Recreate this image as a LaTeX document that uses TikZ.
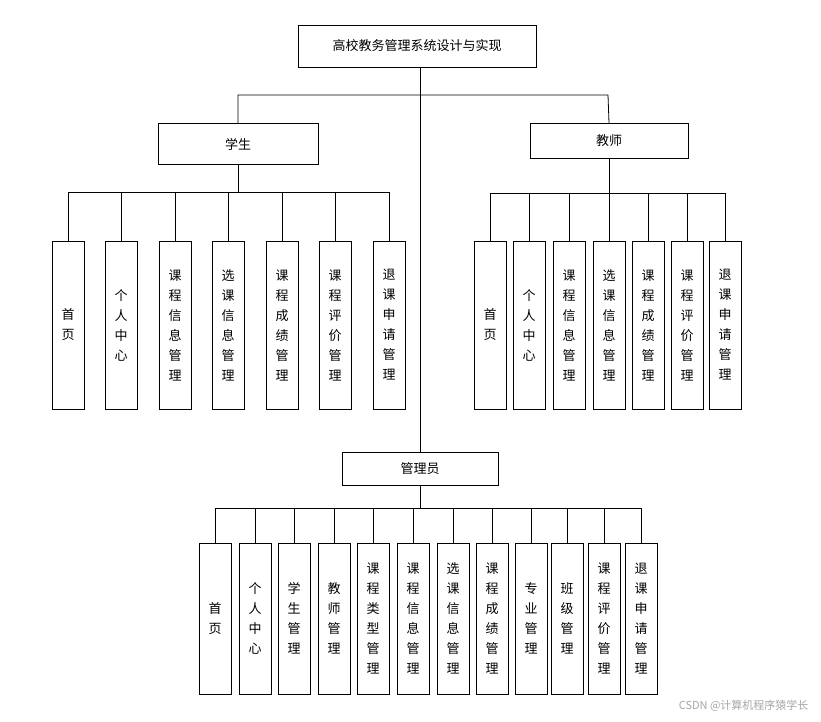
\documentclass[tikz,border=0pt]{standalone}
\usepackage{fontspec}
\setmainfont{Noto Sans CJK SC}
\begin{document}
\begin{tikzpicture}[x=1pt,y=-1pt,
  box/.style={draw,thick,inner sep=0pt,font=\fontsize{13}{15}\selectfont},
  vbox/.style={draw,thick,inner sep=0pt,minimum width=32pt,align=center,font=\fontsize{13}{20}\selectfont},
  ln/.style={thick}]
\useasboundingbox (0,0) rectangle (821,722);
\node[box,minimum width=238pt,minimum height=42pt] (root) at (417,46) {高校教务管理系统设计与实现};
\node[box,minimum width=160pt,minimum height=41pt] (stu) at (238,144) {学生};
\node[box,minimum width=158pt,minimum height=35pt] (tea) at (609,141) {教师};
\node[box,minimum width=156pt,minimum height=33pt] (adm) at (420,469) {管理员};
\draw[ln] (root.south) ++(3,0) coordinate (rs) -- (adm.north);
\coordinate (b0) at (420,95);
\draw[ln] (stu.north) -- (238,95) -- (608,95) -- (tea.north);
% student
\foreach \x/\t [count=\i] in {68/首\\页,121/个\\人\\中\\心,175/课\\程\\信\\息\\管\\理,228/选\\课\\信\\息\\管\\理,282/课\\程\\成\\绩\\管\\理,335/课\\程\\评\\价\\管\\理,389/退\\课\\申\\请\\管\\理}{
  \node[vbox,minimum height=168pt] (s\i) at (\x,325) {\t};
  \draw[ln] (s\i.north) -- (\x,192);}
\draw[ln] (68,192) -- (389,192) (stu.south) -- (238,192);
% teacher
\foreach \x/\t [count=\i] in {490/首\\页,529/个\\人\\中\\心,569/课\\程\\信\\息\\管\\理,609/选\\课\\信\\息\\管\\理,648/课\\程\\成\\绩\\管\\理,687/课\\程\\评\\价\\管\\理,725/退\\课\\申\\请\\管\\理}{
  \node[vbox,minimum height=168pt] (t\i) at (\x,325) {\t};
  \draw[ln] (t\i.north) -- (\x,193);}
\draw[ln] (490,193) -- (725,193) (tea.south) -- (609,193);
% admin
\foreach \x/\t [count=\i] in {215/首\\页,255/个\\人\\中\\心,294/学\\生\\管\\理,334/教\\师\\管\\理,373/课\\程\\类\\型\\管\\理,413/课\\程\\信\\息\\管\\理,453/选\\课\\信\\息\\管\\理,492/课\\程\\成\\绩\\管\\理,531/专\\业\\管\\理,567/班\\级\\管\\理,604/课\\程\\评\\价\\管\\理,641/退\\课\\申\\请\\管\\理}{
  \node[vbox,minimum height=151pt] (a\i) at (\x,618.5) {\t};
  \draw[ln] (a\i.north) -- (\x,508);}
\draw[ln] (215,508) -- (641,508) (adm.south) -- (420,508);
\node[text=gray!70,font=\fontsize{11}{13}\selectfont,anchor=east] (wm) at (812,706) {CSDN @计算机程序猿学长};
\end{tikzpicture}
\end{document}
